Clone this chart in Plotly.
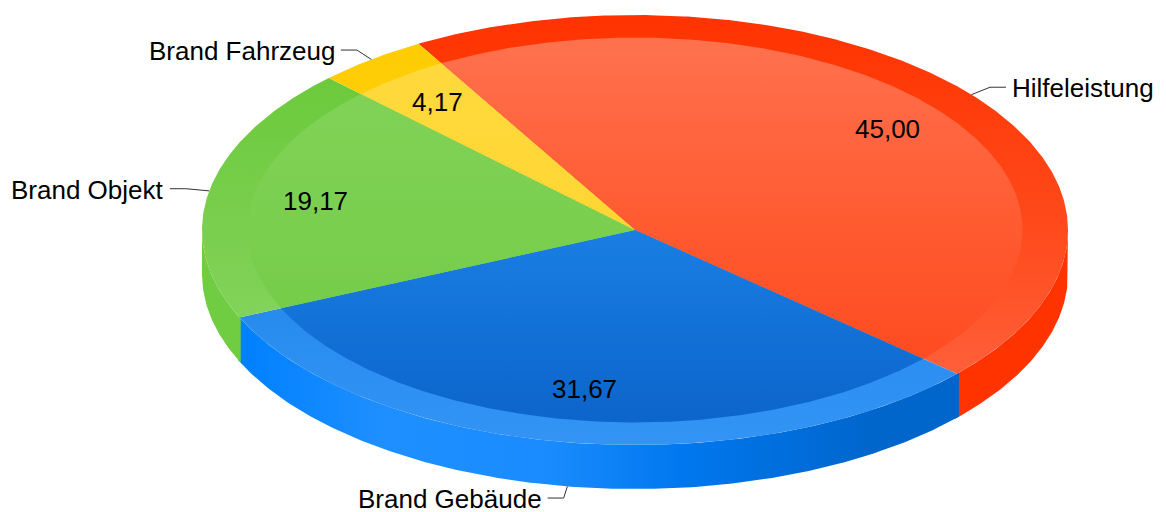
import math
import plotly.graph_objects as go

# ---- data ----
categories = ["Hilfeleistung", "Brand Gebäude", "Brand Objekt", "Brand Fahrzeug"]
values = [45.00, 31.67, 19.17, 4.17]

# ---- styling ----
ring_colors = [
    [[0, "#ff3300"], [0.5, "#ff4a1c"], [1, "#ff6a48"]],
    [[0, "#0a6ad0"], [0.5, "#2086ea"], [1, "#3394f5"]],
    [[0, "#66c833"], [0.5, "#7acf4f"], [1, "#8ed868"]],
    [[0, "#ffcc00"], [0.5, "#ffcf14"], [1, "#ffd633"]],
]
inner_colors = [
    [[0, "#ff7452"], [0.5, "#ff5a30"], [1, "#ff4218"]],
    [[0, "#2e8ef0"], [0.5, "#1a7ee2"], [1, "#0a62c8"]],
    [[0, "#84d45a"], [0.5, "#7acf4f"], [1, "#6cc840"]],
    [[0, "#ffda40"], [0.5, "#ffd633"], [1, "#ffd030"]],
]
wall_colors = [
    [[0, "#ff3300"], [1, "#ff3300"]],
    [[0, "#0080ff"], [0.2, "#1f8fff"], [0.42, "#1a8cff"], [0.62, "#0077ee"], [0.88, "#0066cc"], [1, "#0066cc"]],
    [[0, "#70cc40"], [1, "#70cc40"]],
    [[0, "#ffcc00"], [1, "#ffcc00"]],
]

W, H = 1166, 512
OFF = 8  # page body margin
CX, CY, RX, RY = 635, 230, 433, 215
DEPTH = 44
INNER = 0.895
START = 120.0  # degrees, going clockwise
FONT = "Liberation Sans, Arial, sans-serif"

total = sum(values)
bounds = []
a = START
for v in values:
    b = a - v / total * 360.0
    bounds.append((a, b))
    a = b


def pt(ang, rx, ry, cy):
    r = math.radians(ang)
    return CX + rx * math.cos(r), cy - ry * math.sin(r)


def arc(a0, a1, rx, ry, cy, step=0.5):
    n = max(2, int(abs(a1 - a0) / step) + 1)
    xs, ys = [], []
    for i in range(n + 1):
        t = a0 + (a1 - a0) * i / n
        x, y = pt(t, rx, ry, cy)
        xs.append(x)
        ys.append(y)
    return xs, ys


fig = go.Figure()

# ---- side walls (front half only) ----
for i, (a0, a1) in enumerate(bounds):
    lo, hi = min(a0, a1), max(a0, a1)
    for k in (-1, 0, 1):
        f0, f1 = -180 + 360 * k, 0 + 360 * k
        s, e = max(lo, f0), min(hi, f1)
        if e <= s:
            continue
        s2, e2 = max(f0, s - 0.4), min(f1, e + 0.4)
        tx, ty = arc(s2, e2, RX, RY, CY)
        bx, by = arc(e2, s2, RX, RY, CY + DEPTH)
        fig.add_trace(go.Scatter(
            x=tx + bx + [tx[0]], y=ty + by + [ty[0]], mode="lines",
            fill="toself", line=dict(width=0),
            fillgradient=dict(type="horizontal", colorscale=wall_colors[i],
                              start=CX - RX + 40, stop=CX + RX - 110),
            hoverinfo="skip", showlegend=False))

# ---- top face: outer ring then inner disc ----
for scale, cols in ((1.0, ring_colors), (INNER, inner_colors)):
    for i, (a0, a1) in enumerate(bounds):
        xs, ys = arc(a0, a1, RX * scale, RY * scale, CY)
        fig.add_trace(go.Scatter(
            x=[CX] + xs + [CX], y=[CY] + ys + [CY], mode="lines",
            fill="toself", line=dict(width=0),
            fillgradient=dict(type="vertical", colorscale=cols[i],
                              start=CY - RY, stop=CY + RY),
            hoverinfo="skip", showlegend=False))

annotations = []
for i, (a0, a1) in enumerate(bounds):
    mid = (a0 + a1) / 2
    # value label
    vx, vy = pt(mid, RX * 0.75, RY * 0.75, CY)
    annotations.append(dict(x=vx, y=vy, text=f"{values[i]:.2f}".replace(".", ","),
                            showarrow=False, xanchor="center", yanchor="middle",
                            font=dict(family=FONT, size=26, color="#000000")))
    # leader line + category label
    cy = CY + DEPTH if math.sin(math.radians(mid)) < 0 else CY
    sx, sy = pt(mid, RX, RY, cy)
    ex, ey = pt(mid, RX * 1.055, RY * 1.055, cy)
    side = 1 if math.cos(math.radians(mid)) >= 0 else -1
    hx = ex + side * 16
    fig.add_trace(go.Scatter(x=[sx, ex, hx], y=[sy, ey, ey], mode="lines",
                             line=dict(color="#333333", width=1),
                             hoverinfo="skip", showlegend=False))
    annotations.append(dict(x=hx + side * 4, y=ey + 1, text=categories[i], showarrow=False,
                            xanchor="left" if side > 0 else "right", yanchor="middle",
                            font=dict(family=FONT, size=26, color="#000000")))

fig.update_layout(
    width=W - OFF, height=H - OFF, margin=dict(l=0, r=0, t=0, b=0),
    paper_bgcolor="#ffffff", plot_bgcolor="#ffffff",
    xaxis=dict(range=[OFF, W], visible=False, fixedrange=True),
    yaxis=dict(range=[H, OFF], visible=False, fixedrange=True),
    annotations=annotations, showlegend=False,
)
fig.write_html("out.html")
